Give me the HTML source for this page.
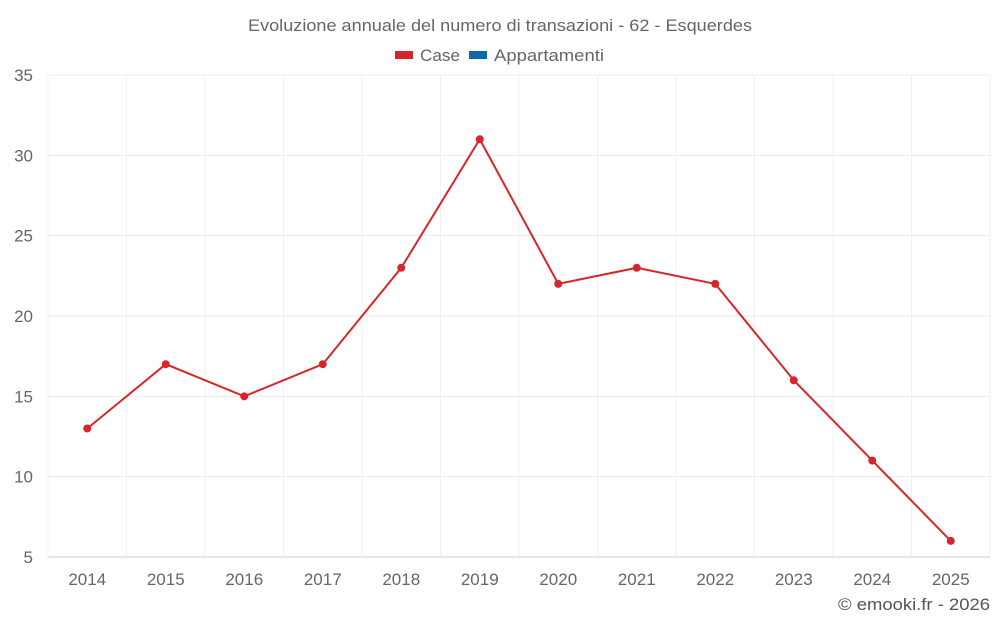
<!DOCTYPE html>
<html><head><meta charset="utf-8"><style>
body{margin:0;background:#fff;font-family:"Liberation Sans",sans-serif;}
svg text{font-family:"Liberation Sans",sans-serif;}
</style></head><body>
<svg id="c" width="1000" height="625">
<text x="248" y="31" font-size="17" fill="#666" textLength="504" lengthAdjust="spacingAndGlyphs">Evoluzione annuale del numero di transazioni - 62 - Esquerdes</text>
<g>
<rect x="395" y="51" width="18" height="8" fill="#d7262b"/>
<text x="420" y="61" font-size="17" fill="#666" textLength="40" lengthAdjust="spacingAndGlyphs">Case</text>
<rect x="469" y="51" width="18" height="8" fill="#0d6aa8"/>
<text x="494" y="61" font-size="17" fill="#666" textLength="110" lengthAdjust="spacingAndGlyphs">Appartamenti</text>
</g>
<g id="grid"></g><g id="axes"></g><g id="series"></g>
<text x="838" y="610" font-size="17" fill="#555" textLength="152" lengthAdjust="spacingAndGlyphs">© emooki.fr - 2026</text>
</svg>
<script>
const years=["2014","2015","2016","2017","2018","2019","2020","2021","2022","2023","2024","2025"];
const caseValues=[13,17,15,17,23,31,22,23,22,16,11,6];
const yTicks=[5,10,15,20,25,30,35];
const L=48,R=990,T=75,B=557,ymin=5,ymax=35;
const bw=(R-L)/years.length;
const X=i=>L+bw*(i+0.5);
const Y=v=>B-(v-ymin)/(ymax-ymin)*(B-T);
const NS="http://www.w3.org/2000/svg";
function mk(t,a,p){const e=document.createElementNS(NS,t);for(const k in a)e.setAttribute(k,a[k]);p.appendChild(e);return e;}
const g=document.getElementById('grid'),ax=document.getElementById('axes'),s=document.getElementById('series');
yTicks.forEach(v=>{
 const l=mk('line',{x1:L,x2:R,y1:Y(v),y2:Y(v),stroke:v===ymin?'#ccc':'#ebebeb'},g);
 
 
 const t=mk('text',{x:33,y:Y(v)+6,'text-anchor':'end','font-size':17,fill:'#666'},ax);
 t.textContent=v;
 
 
});
for(let i=0;i<=years.length;i++){
 const l=mk('line',{x1:L+bw*i,x2:L+bw*i,y1:T,y2:B,stroke:'#f0f0f0'},g);
 
 
}
years.forEach((y,i)=>{
 const t=mk('text',{x:X(i),y:585,'text-anchor':'middle','font-size':17,fill:'#666'},ax);
 t.textContent=y;
 
 
});
const p=mk('polyline',{points:caseValues.map((v,i)=>X(i)+','+Y(v)).join(' '),fill:'none',stroke:'#d7262b','stroke-width':2},s);


caseValues.forEach((v,i)=>{
 const c=mk('circle',{cx:X(i),cy:Y(v),r:4,fill:'#d7262b'},s);
 
 
});
</script>
</body></html>
